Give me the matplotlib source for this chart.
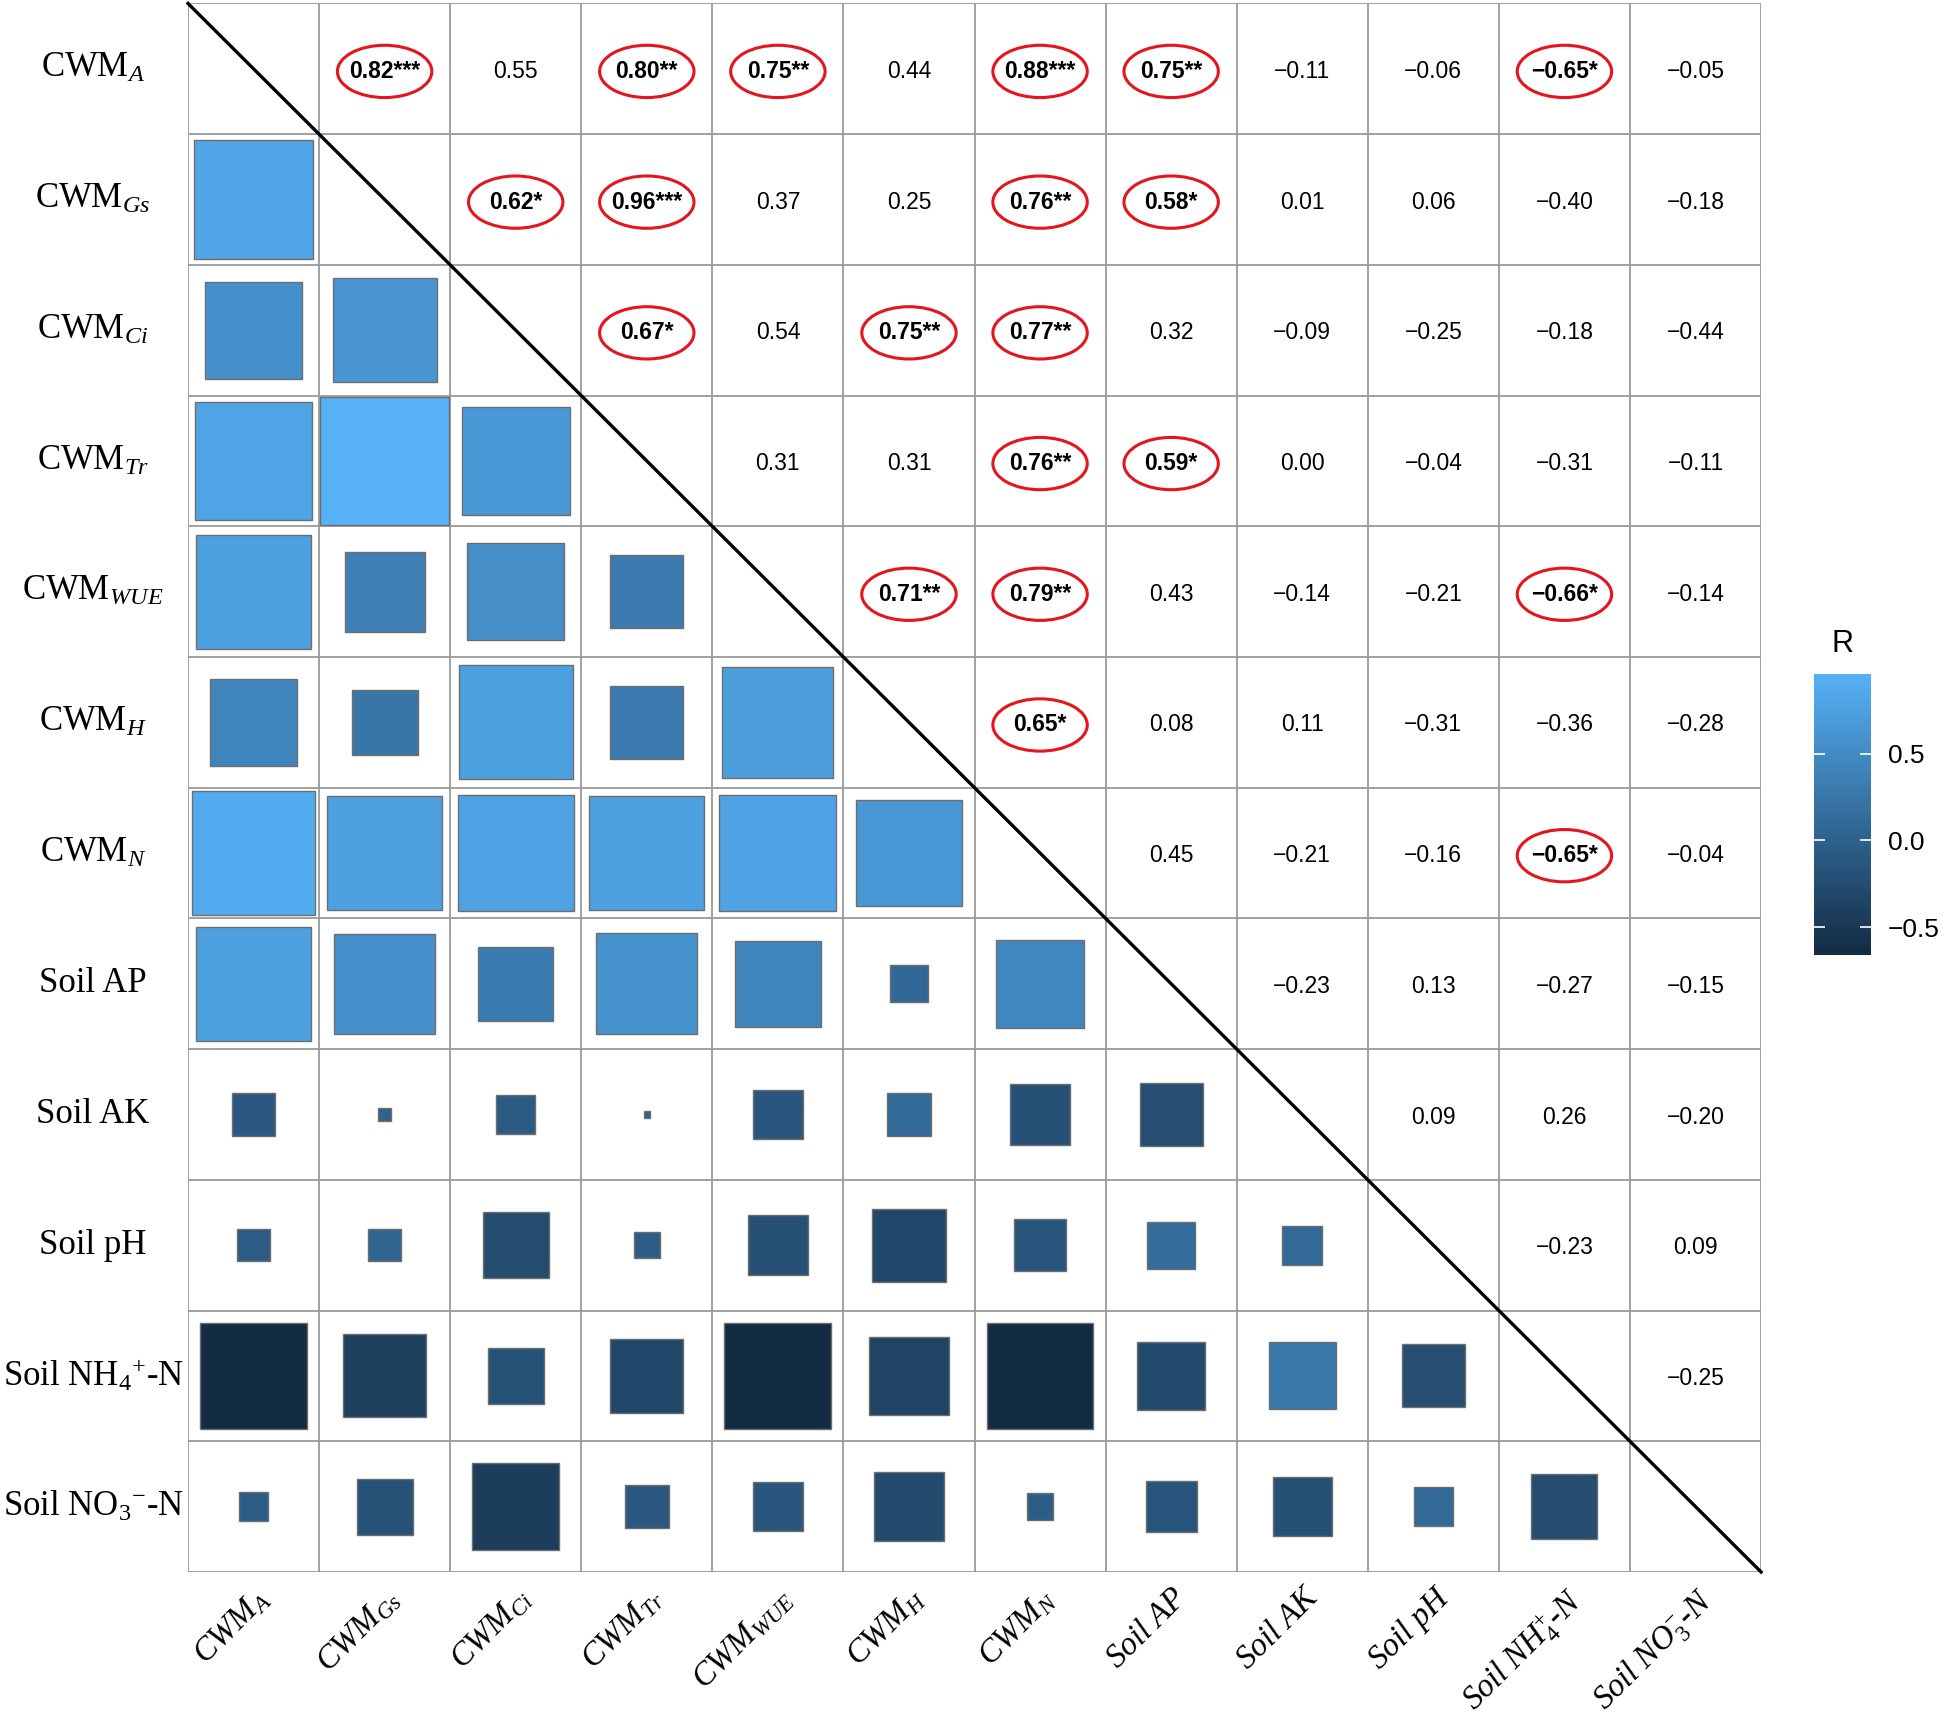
import matplotlib
matplotlib.use("Agg")
import matplotlib.pyplot as plt
import numpy as np
from matplotlib.patches import Rectangle, Ellipse
from matplotlib.colors import LinearSegmentedColormap, Normalize
from matplotlib.cm import ScalarMappable

plt.rcParams['mathtext.fontset'] = 'custom'
plt.rcParams['mathtext.rm'] = 'Liberation Serif'
plt.rcParams['mathtext.it'] = 'Liberation Serif:italic'
plt.rcParams['mathtext.bf'] = 'Liberation Serif:bold'

# variable labels (rows / columns)
ylabels = ['CWM$_{A}$', 'CWM$_{Gs}$', 'CWM$_{Ci}$', 'CWM$_{Tr}$', 'CWM$_{WUE}$',
           'CWM$_{H}$', 'CWM$_{N}$', 'Soil AP', 'Soil AK', 'Soil pH',
           'Soil NH$_{4}$$^{+}$-N', 'Soil NO$_{3}$$^{-}$-N']
xlabels = ['CWM$_{A}$', 'CWM$_{Gs}$', 'CWM$_{Ci}$', 'CWM$_{Tr}$', 'CWM$_{WUE}$',
           'CWM$_{H}$', 'CWM$_{N}$', 'Soil AP', 'Soil AK', 'Soil pH',
           'Soil NH$_{4}^{+}$-N', 'Soil NO$_{3}^{-}$-N']

# upper triangle, row by row (r values)
r_rows = [
    [0.82, 0.55, 0.80, 0.75, 0.44, 0.88, 0.75, -0.11, -0.06, -0.65, -0.05],
    [0.62, 0.96, 0.37, 0.25, 0.76, 0.58, 0.01, 0.06, -0.40, -0.18],
    [0.67, 0.54, 0.75, 0.77, 0.32, -0.09, -0.25, -0.18, -0.44],
    [0.31, 0.31, 0.76, 0.59, 0.00, -0.04, -0.31, -0.11],
    [0.71, 0.79, 0.43, -0.14, -0.21, -0.66, -0.14],
    [0.65, 0.08, 0.11, -0.31, -0.36, -0.28],
    [0.45, -0.21, -0.16, -0.65, -0.04],
    [-0.23, 0.13, -0.27, -0.15],
    [0.09, 0.26, -0.20],
    [-0.23, 0.09],
    [-0.25],
]
# significance stars, same layout
sig_rows = [
    ['***', '', '**', '**', '', '***', '**', '', '', '*', ''],
    ['*', '***', '', '', '**', '*', '', '', '', ''],
    ['*', '', '**', '**', '', '', '', '', ''],
    ['', '', '**', '*', '', '', '', ''],
    ['**', '**', '', '', '', '*', ''],
    ['*', '', '', '', '', ''],
    ['', '', '', '*', ''],
    ['', '', '', ''],
    ['', '', ''],
    ['', ''],
    [''],
]

n = len(ylabels)
R = np.zeros((n, n))
S = [['' for _ in range(n)] for _ in range(n)]
for i, row in enumerate(r_rows):
    for k, v in enumerate(row):
        j = i + 1 + k
        R[i, j] = v
        R[j, i] = v
        S[i][j] = sig_rows[i][k]

cmap = LinearSegmentedColormap.from_list('gg', ['#132B43', '#56B1F7'])
norm = Normalize(vmin=-0.66, vmax=0.96)

fig = plt.figure(figsize=(19.44, 17.25), dpi=100)
ax = fig.add_axes([0.0967, 0.0887, 0.8092, 0.9093])
ax.set_xlim(0, n)
ax.set_ylim(n, 0)
ax.set_xticks([])
ax.set_yticks([])
for s in ax.spines.values():
    s.set_visible(False)

# grid
for k in range(n + 1):
    ax.plot([k, k], [0, n], color='#9a9a9a', lw=1.3, zorder=1)
    ax.plot([0, n], [k, k], color='#9a9a9a', lw=1.3, zorder=1)

rmax = np.abs(R).max()
dy = 0.02
for i in range(n):
    for j in range(n):
        if i > j:
            side = max(0.985 * np.sqrt(abs(R[i, j]) / rmax), 0.05)
            ax.add_patch(Rectangle((j + 0.5 - side / 2, i + 0.5 - side / 2), side, side,
                                   facecolor=cmap(norm(R[i, j])), edgecolor='#6e6e6e',
                                   lw=1.0, zorder=2))
        elif i < j:
            txt = '%.2f' % R[i, j]
            txt = txt.replace('-', '\u2212')
            if S[i][j]:
                ax.text(j + 0.5, i + 0.5 + dy, txt + S[i][j], ha='center', va='center',
                        fontsize=16.5, fontweight='bold', family='Liberation Sans', zorder=3)
                ax.add_patch(Ellipse((j + 0.5, i + 0.5 + dy), 0.72, 0.40, facecolor='none',
                                     edgecolor='#e8141c', lw=2.2, zorder=3))
            else:
                ax.text(j + 0.5, i + 0.5 + dy, txt, ha='center', va='center',
                        fontsize=16.5, family='Liberation Sans', zorder=3)

# diagonal
ax.plot([0, n], [0, n], color='black', lw=2.4, zorder=4, clip_on=False)

# y labels
ytr = ax.get_yaxis_transform()
for i, lab in enumerate(ylabels):
    ax.text(-0.0604, i + 0.5, lab, transform=ytr, ha='center', va='center',
            fontsize=25, family='Liberation Serif')

# x labels
xtr = ax.get_xaxis_transform()
for j, lab in enumerate(xlabels):
    ax.text(j + 0.50, -0.007, lab, transform=xtr, ha='right', va='top', rotation=45,
            rotation_mode='anchor', fontsize=23.5, family='Liberation Serif',
            fontstyle='italic')

# colorbar
cax = fig.add_axes([0.9331, 0.4464, 0.0293, 0.163])
sm = ScalarMappable(norm=norm, cmap=cmap)
cb = fig.colorbar(sm, cax=cax, ticks=[-0.5, 0.0, 0.5])
cb.outline.set_visible(False)
cb.ax.set_yticklabels(['\u22120.5', '0.0', '0.5'], family='Liberation Sans', fontsize=19)
cb.ax.tick_params(axis='y', direction='in', length=8, width=1.2, color='white',
                  right=True, left=True, pad=12)
cb.ax.set_title('R', fontsize=22, family='Liberation Sans', pad=16)

fig.savefig('out.png', dpi=100, facecolor='white')
